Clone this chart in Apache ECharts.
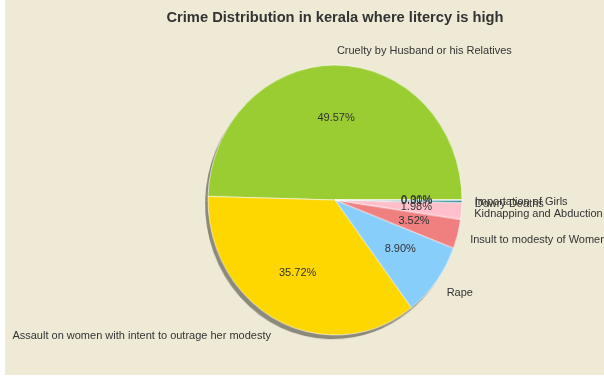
<!DOCTYPE html>
<html>
<head>
<meta charset="utf-8">
<script src="https://cdn.jsdelivr.net/npm/echarts@6/dist/echarts.min.js"></script>
<style>
html,body{margin:0;padding:0;background:#ffffff;}
#wrap{position:absolute;left:5px;top:0;width:599px;height:375px;background:#efead6;overflow:hidden;}
#shapes{position:absolute;left:0;top:0;width:599px;height:375px;transform-origin:330px 200px;transform:scale(0.9695,1.0305);}
#texts{position:absolute;left:0;top:0;width:599px;height:375px;}
</style>
</head>
<body>
<div id="wrap"><div id="shapes"></div><div id="texts"></div></div>
<script>
const titleText = 'Crime Distribution in kerala where litercy is high';
const categories = ['Cruelty by Husband or his Relatives','Assault on women with intent to outrage her modesty','Rape','Insult to modesty of Women','Kidnapping and Abduction','Dowry Deaths','Importation of Girls'];
const shares = [49.57, 35.72, 8.90, 3.52, 1.98, 0.31, 0.001];
const colors = ['#9acd32','#ffd700','#87cefa','#f08080','#ffc0cb','#2f8f9f','#6a5acd'];

const R = 131;
const RX = 127, RY = 137;
const CX = 330, CY = 200;
const FONT = 'Liberation Sans, Arial, sans-serif';

const shapes = echarts.init(document.getElementById('shapes'), null, {renderer:'canvas'});
const texts = echarts.init(document.getElementById('texts'), null, {renderer:'canvas'});

// place outer labels on the (slightly elliptical) 1.1-radius ring:
// radial part reaches the ring's height, horizontal part corrects the width
const total = shares.reduce((a,b)=>a+b,0);
let acc = 0;
const labelLines = shares.map(v=>{
  const mid = (acc + v/2)/total*2*Math.PI; acc += v;
  const c = Math.abs(Math.cos(mid));
  return {show:false, length:1.1*RY - R, length2:-1.1*(RY-RX)*c};
});

const mainData = categories.map((n,i)=>({name:n, value:shares[i], itemStyle:{color:colors[i]}}));
const shadowData = categories.map((n,i)=>({name:n, value:shares[i]}));
const nameData = categories.map((n,i)=>({name:n, value:shares[i], labelLine:labelLines[i]}));
const pctData = categories.map((n,i)=>({name:n, value:shares[i]}));

shapes.setOption({
  backgroundColor:'transparent',
  animation:false,
  series:[
    {
      type:'pie', silent:true, z:1,
      center:[CX-3, CY+4], radius:R,
      startAngle:0, clockwise:false,
      data:shadowData,
      itemStyle:{color:'rgba(0,0,0,0.42)', borderWidth:0},
      label:{show:false}, labelLine:{show:false},
      emphasis:{disabled:true}
    },
    {
      type:'pie', silent:true, z:2,
      center:[CX, CY], radius:R,
      startAngle:0, clockwise:false,
      data:mainData,
      itemStyle:{borderColor:'rgba(255,255,255,0.75)', borderWidth:0.8},
      label:{show:false}, labelLine:{show:false},
      emphasis:{disabled:true}
    }
  ]
});

texts.setOption({
  backgroundColor:'transparent',
  animation:false,
  graphic:[{
    type:'text', x:CX, y:18, silent:true,
    style:{text:titleText, align:'center', verticalAlign:'middle',
      font:'bold 14.7px Liberation Sans, Arial, sans-serif', fill:'#333333'}
  }],
  series:[
    {
      type:'pie', silent:true, z:2,
      center:[CX, CY + 2], radius:R,
      startAngle:0, clockwise:false,
      avoidLabelOverlap:false, minShowLabelAngle:0,
      labelLayout:{hideOverlap:false},
      data:nameData,
      itemStyle:{color:'rgba(0,0,0,0)', borderWidth:0},
      label:{show:true, position:'outside', distanceToLabelLine:0,
        fontFamily:FONT, fontSize:11, color:'#333333', formatter:'{b}'},
      labelLine:{show:false, length:13, length2:0},
      emphasis:{disabled:true}
    },
    {
      type:'pie', silent:true, z:3,
      center:[CX, CY], radius:R*1.2,
      startAngle:0, clockwise:false,
      avoidLabelOverlap:false, minShowLabelAngle:0,
      labelLayout:{hideOverlap:false},
      data:pctData,
      itemStyle:{color:'rgba(0,0,0,0)', borderWidth:0},
      label:{show:true, position:'inside',
        fontFamily:FONT, fontSize:11, color:'#333333',
        formatter:p=>p.value.toFixed(2)+'%'},
      labelLine:{show:false},
      emphasis:{disabled:true}
    }
  ]
});
</script>
</body>
</html>
